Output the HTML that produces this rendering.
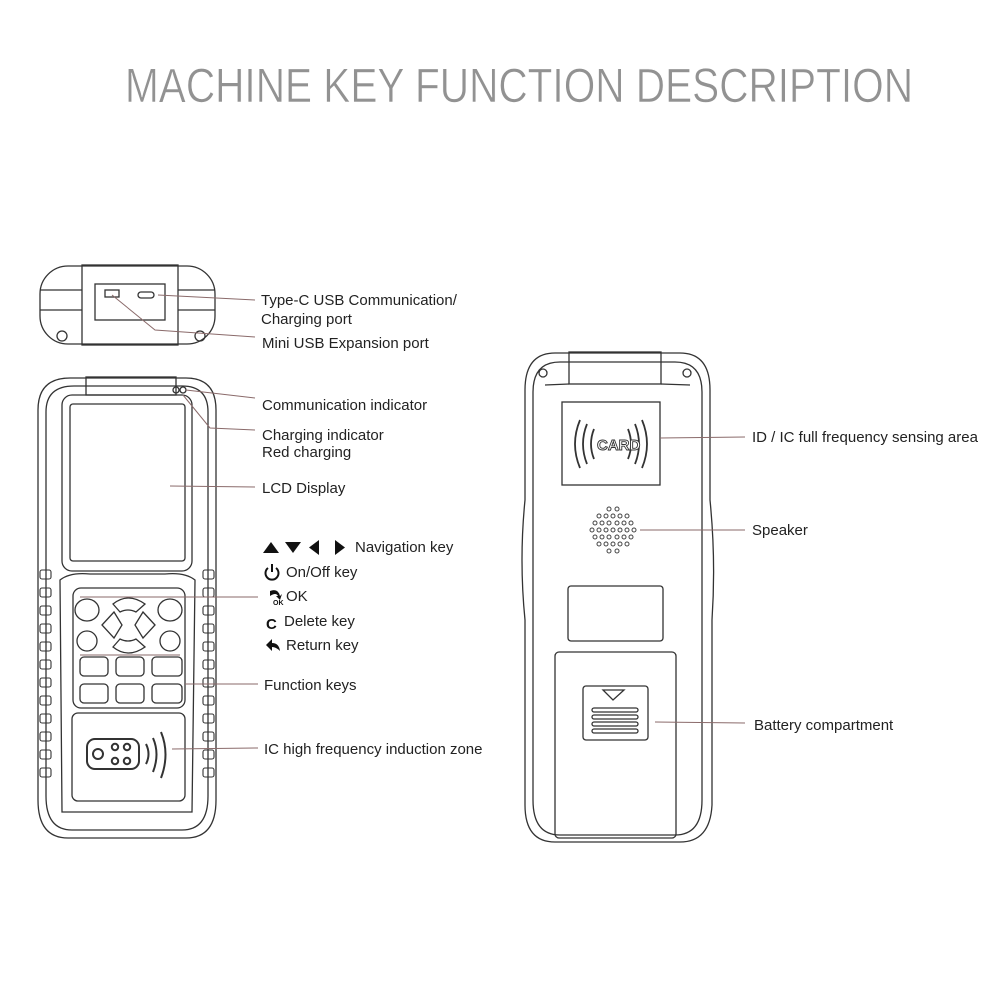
<!DOCTYPE html>
<html><head><meta charset="utf-8"><style>body{margin:0;background:#fff}svg{display:block}</style></head><body>
<svg width="1000" height="1000" viewBox="0 0 1000 1000" xmlns="http://www.w3.org/2000/svg" font-family="Liberation Sans, sans-serif">
<rect width="1000" height="1000" fill="#fff"/>
<text x="125" y="102" font-size="48" fill="#929292" stroke="#fff" stroke-width="0.6" textLength="788" lengthAdjust="spacingAndGlyphs">MACHINE KEY FUNCTION DESCRIPTION</text>

<g fill="none" stroke="#333" stroke-width="1.3">
<rect x="40" y="266" width="175" height="78" rx="28"/>
<rect x="82" y="265" width="96" height="80"/>
<rect x="95" y="284" width="70" height="36"/>
<rect x="105" y="290" width="14" height="7"/>
<rect x="138" y="292" width="16" height="6" rx="3"/>
<line x1="40" y1="290" x2="82" y2="290"/><line x1="40" y1="310" x2="82" y2="310"/>
<line x1="178" y1="290" x2="215" y2="290"/><line x1="178" y1="310" x2="215" y2="310"/>
<circle cx="62" cy="336" r="5"/><circle cx="200" cy="336" r="5"/>

<path d="M70 378 H186 Q216 378 216 410 V800 Q216 838 186 838 H68 Q38 838 38 800 V410 Q38 378 70 378 Z"/>
<path d="M74 386 H182 Q208 386 208 412 V796 Q208 830 182 830 H72 Q46 830 46 796 V412 Q46 386 74 386 Z"/>
<rect x="86" y="377" width="90" height="18"/>
<rect x="62" y="395" width="130" height="176" rx="10"/>
<rect x="70" y="404" width="115" height="157" rx="3"/>
<circle cx="176" cy="390" r="3"/><circle cx="183" cy="390" r="3"/>
<path d="M60 580 Q70 572 90 574 H165 Q185 572 195 580 L192 812 H62 Z"/>
<rect x="73" y="588" width="112" height="120" rx="8"/>
<ellipse cx="87" cy="610" rx="12" ry="11"/><ellipse cx="170" cy="610" rx="12" ry="11"/>
<ellipse cx="87" cy="641" rx="10" ry="10"/><ellipse cx="170" cy="641" rx="10" ry="10"/>
<path d="M113 604 Q128 592 145 604 L136 612 Q128 608 120 612 Z"/>
<path d="M113 647 Q128 659 145 647 L136 639 Q128 643 120 639 Z"/>
<path d="M102 625 L114 612 L122 625 L114 638 Z"/>
<path d="M155 625 L143 612 L135 625 L143 638 Z"/>
<rect x="80" y="657" width="28" height="19" rx="4"/><rect x="116" y="657" width="28" height="19" rx="4"/><rect x="152" y="657" width="30" height="19" rx="4"/>
<rect x="80" y="684" width="28" height="19" rx="4"/><rect x="116" y="684" width="28" height="19" rx="4"/><rect x="152" y="684" width="30" height="19" rx="4"/>
<rect x="72" y="713" width="113" height="88" rx="6"/>
<rect x="87" y="739" width="52" height="30" rx="8" stroke-width="2"/>
<circle cx="98" cy="754" r="5" stroke-width="2"/>
<circle cx="115" cy="747" r="3.2" stroke-width="2"/><circle cx="127" cy="747" r="3.2" stroke-width="2"/>
<circle cx="115" cy="761" r="3.2" stroke-width="2"/><circle cx="127" cy="761" r="3.2" stroke-width="2"/>
<path d="M146 744 Q151 754 146 764" stroke-width="2"/>
<path d="M153 738 Q160 754 153 772" stroke-width="2"/>
<path d="M161 732 Q170 754 161 778" stroke-width="2"/>
</g>
<g fill="none" stroke="#333" stroke-width="1.1">
<rect x="40" y="570" width="11" height="9" rx="2"/><rect x="40" y="588" width="11" height="9" rx="2"/><rect x="40" y="606" width="11" height="9" rx="2"/><rect x="40" y="624" width="11" height="9" rx="2"/><rect x="40" y="642" width="11" height="9" rx="2"/><rect x="40" y="660" width="11" height="9" rx="2"/><rect x="40" y="678" width="11" height="9" rx="2"/><rect x="40" y="696" width="11" height="9" rx="2"/><rect x="40" y="714" width="11" height="9" rx="2"/><rect x="40" y="732" width="11" height="9" rx="2"/><rect x="40" y="750" width="11" height="9" rx="2"/><rect x="40" y="768" width="11" height="9" rx="2"/>
<rect x="203" y="570" width="11" height="9" rx="2"/><rect x="203" y="588" width="11" height="9" rx="2"/><rect x="203" y="606" width="11" height="9" rx="2"/><rect x="203" y="624" width="11" height="9" rx="2"/><rect x="203" y="642" width="11" height="9" rx="2"/><rect x="203" y="660" width="11" height="9" rx="2"/><rect x="203" y="678" width="11" height="9" rx="2"/><rect x="203" y="696" width="11" height="9" rx="2"/><rect x="203" y="714" width="11" height="9" rx="2"/><rect x="203" y="732" width="11" height="9" rx="2"/><rect x="203" y="750" width="11" height="9" rx="2"/><rect x="203" y="768" width="11" height="9" rx="2"/>
</g>

<g fill="none" stroke="#333" stroke-width="1.3">
<path d="M555 353 H680 Q710 353 710 390 V500 Q716 560 712 620 V805 Q710 842 680 842 H555 Q525 842 525 805 V620 Q519 560 525 500 V390 Q525 353 555 353 Z"/>
<path d="M560 362 H675 Q702 362 702 392 V800 Q702 835 675 835 H560 Q533 835 533 800 V392 Q533 362 560 362 Z"/>
<rect x="569" y="352" width="92" height="32"/>
<path d="M545 385 L569 384 M690 385 L661 384"/>
<circle cx="543" cy="373" r="4"/><circle cx="687" cy="373" r="4"/>
<rect x="562" y="402" width="98" height="83"/>
<rect x="568" y="586" width="95" height="55" rx="3"/>
<rect x="555" y="652" width="121" height="186" rx="4"/>
<rect x="583" y="686" width="65" height="54" rx="3"/>
<path d="M603 690 H624 L613 700 Z"/>
<rect x="592" y="708" width="46" height="4" rx="2"/><rect x="592" y="715" width="46" height="4" rx="2"/><rect x="592" y="722" width="46" height="4" rx="2"/><rect x="592" y="729" width="46" height="4" rx="2"/>
<path d="M580 420 Q570 444 580 468" stroke-width="1.8"/><path d="M587 424 Q579 444 587 464" stroke-width="1.8"/><path d="M594 429 Q588 444 594 459" stroke-width="1.8"/>
<path d="M642 420 Q652 444 642 468" stroke-width="1.8"/><path d="M635 424 Q643 444 635 464" stroke-width="1.8"/><path d="M628 429 Q634 444 628 459" stroke-width="1.8"/>
</g>
<text x="597" y="450" font-size="15" font-weight="bold" fill="#fff" stroke="#333" stroke-width="0.9">CARD</text>
<g fill="none" stroke="#444" stroke-width="1">
<circle cx="613" cy="530" r="2"/><circle cx="606" cy="530" r="2"/><circle cx="620" cy="530" r="2"/><circle cx="599" cy="530" r="2"/><circle cx="627" cy="530" r="2"/><circle cx="592" cy="530" r="2"/><circle cx="634" cy="530" r="2"/>
<circle cx="609" cy="523" r="2"/><circle cx="617" cy="523" r="2"/><circle cx="602" cy="523" r="2"/><circle cx="624" cy="523" r="2"/><circle cx="595" cy="523" r="2"/><circle cx="631" cy="523" r="2"/>
<circle cx="609" cy="537" r="2"/><circle cx="617" cy="537" r="2"/><circle cx="602" cy="537" r="2"/><circle cx="624" cy="537" r="2"/><circle cx="595" cy="537" r="2"/><circle cx="631" cy="537" r="2"/>
<circle cx="613" cy="516" r="2"/><circle cx="606" cy="516" r="2"/><circle cx="620" cy="516" r="2"/><circle cx="599" cy="516" r="2"/><circle cx="627" cy="516" r="2"/>
<circle cx="613" cy="544" r="2"/><circle cx="606" cy="544" r="2"/><circle cx="620" cy="544" r="2"/><circle cx="599" cy="544" r="2"/><circle cx="627" cy="544" r="2"/>
<circle cx="609" cy="509" r="2"/><circle cx="617" cy="509" r="2"/><circle cx="609" cy="551" r="2"/><circle cx="617" cy="551" r="2"/>
</g>

<g stroke="#8a6a6a" stroke-width="1" fill="none">
<line x1="158" y1="295" x2="255" y2="300"/>
<polyline points="112,295 155,330 255,337"/>
<line x1="186" y1="390" x2="255" y2="398"/>
<polyline points="183,395 210,428 255,430"/>
<line x1="170" y1="486" x2="255" y2="487"/>
<line x1="80" y1="597" x2="258" y2="597"/>
<line x1="80" y1="655" x2="180" y2="655"/>
<line x1="185" y1="684" x2="258" y2="684"/>
<line x1="172" y1="749" x2="258" y2="748"/>
<line x1="660" y1="438" x2="745" y2="437"/>
<line x1="640" y1="530" x2="745" y2="530"/>
<line x1="655" y1="722" x2="745" y2="723"/>
</g>

<g font-size="15" fill="#222">
<text x="261" y="305">Type-C USB Communication/</text>
<text x="261" y="324">Charging port</text>
<text x="262" y="348">Mini USB Expansion port</text>
<text x="262" y="410">Communication indicator</text>
<text x="262" y="440">Charging indicator</text>
<text x="262" y="457">Red charging</text>
<text x="262" y="493">LCD Display</text>
<text x="355" y="552">Navigation key</text>
<text x="286" y="577">On/Off key</text>
<text x="286" y="601">OK</text>
<text x="284" y="626">Delete key</text>
<text x="286" y="650">Return key</text>
<text x="264" y="690">Function keys</text>
<text x="264" y="754">IC high frequency induction zone</text>
<text x="752" y="442">ID / IC full frequency sensing area</text>
<text x="752" y="535">Speaker</text>
<text x="754" y="730">Battery compartment</text>
</g>
<g fill="#111">
<path d="M263 553 L271 542 L279 553 Z"/>
<path d="M285 542 L301 542 L293 553 Z"/>
<path d="M319 540 L319 555 L309 547.5 Z"/>
<path d="M335 540 L335 555 L345 547.5 Z"/>
<text x="266" y="629" font-size="15" font-weight="bold">C</text>
<path d="M266 645 L272 639 L272 643 Q279 643 280 651 Q276 647 272 647 L272 651 Z"/>
<path d="M270 591 Q278 588 280 596 L282 594 L280 600 L276 596 L278 596 Q276 592 270 596 Z"/>
<text x="273" y="605" font-size="7" font-weight="bold">OK</text>
</g>
<g fill="none" stroke="#111" stroke-width="2">
<path d="M268 568 A6.5 6.5 0 1 0 276 568"/><line x1="272" y1="564" x2="272" y2="572"/>
</g>
</svg>
</body></html>
